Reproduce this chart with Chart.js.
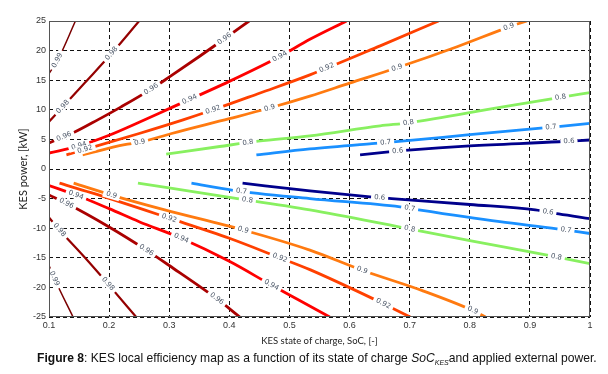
<!DOCTYPE html>
<html>
<head>
<meta charset="utf-8">
<script src="https://cdn.jsdelivr.net/npm/chart.js@4.4.0/dist/chart.umd.min.js"></script>
<style>
  body { margin: 0; background: #fff; }
  #wrap { position: relative; width: 608px; height: 374px; }
  #cap { position: absolute; left: 37px; top: 351px; font: 12.1px "Liberation Sans", Arial, sans-serif; color: #111; white-space: nowrap; }
  #cap sub { font-size: 7px; vertical-align: -3px; }
</style>
</head>
<body>
<div id="wrap">
  <canvas id="effMap" width="608" height="374"></canvas>
  <div id="cap"><b>Figure 8</b>: KES local efficiency map as a function of its state of charge <i>SoC</i><sub><i>KES</i></sub>and applied external power.</div>
</div>
<script>
// contour levels, highest efficiency first
const levels = ['0.99', '0.98', '0.96', '0.94', '0.92', '0.9', '0.8', '0.7', '0.6'];

// charging side (power > 0): [SoC, kW]
const chg099 = [[0.1, 16.1], [0.115, 18.5], [0.144, 25]];
const chg098 = [[0.1, 8.0], [0.123, 10.5], [0.16, 14.6], [0.204, 19.5], [0.25, 25]];
const chg096 = [[0.1, 4.4], [0.142, 6.2], [0.181, 8.3], [0.22, 10.5], [0.27, 13.5], [0.301, 15.6], [0.35, 19], [0.392, 22], [0.433, 25]];
const chg094 = [[0.1, 2.7], [0.15, 3.9], [0.2, 5.7], [0.25, 7.9], [0.3, 10.2], [0.4, 14.8], [0.484, 19], [0.534, 21.9], [0.595, 25]];
const chg092 = [[0.129, 2.4], [0.17, 3.6], [0.25, 6.0], [0.323, 8.3], [0.373, 10], [0.45, 12.8], [0.534, 15.9], [0.651, 20.8], [0.748, 25]];
const chg090 = [[0.156, 2.4], [0.226, 4.1], [0.251, 4.5], [0.304, 6.0], [0.4, 8.5], [0.467, 10.3], [0.534, 12.3], [0.6, 14.5], [0.679, 17.1], [0.78, 20.7], [0.868, 24.1], [0.895, 25]];
const chg080 = [[0.295, 2.5], [0.384, 3.8], [0.448, 4.7], [0.534, 5.6], [0.651, 7.3], [0.698, 7.8], [0.85, 10.4], [0.951, 12.1], [1.0, 12.9]];
const chg070 = [[0.445, 2.4], [0.534, 3.4], [0.637, 4.3], [0.687, 4.7], [0.8, 5.8], [0.918, 6.9], [0.951, 7.2], [1.0, 7.7]];
const chg060 = [[0.6175, 2.4], [0.665, 2.9], [0.698, 3.2], [0.8, 3.9], [0.948, 4.6], [1.0, 4.9]];

// discharging side (power < 0): [SoC, kW]
const dis099 = [[0.1, -16.3], [0.109, -18.5], [0.14, -25]];
const dis098 = [[0.1, -8.2], [0.1175, -10.3], [0.16, -15], [0.198, -19.4], [0.245, -25]];
const dis096 = [[0.1, -4.4], [0.129, -5.8], [0.2, -9.8], [0.262, -13.7], [0.3, -16.3], [0.379, -21.9], [0.4175, -25]];
const dis094 = [[0.1, -2.8], [0.145, -4.4], [0.2, -6.7], [0.25, -8.9], [0.32, -11.7], [0.4, -15.6], [0.47, -19.6], [0.517, -22.2], [0.567, -25]];
const dis092 = [[0.1175, -2.4], [0.17, -4.0], [0.3, -8.3], [0.4, -11.7], [0.484, -15.0], [0.534, -17.0], [0.645, -22.2], [0.701, -25]];
const dis090 = [[0.141, -2.4], [0.204, -4.4], [0.2925, -6.9], [0.423, -10.3], [0.534, -13.7], [0.621, -17.1], [0.72, -20.5], [0.805, -23.9], [0.826, -25]];
const dis080 = [[0.248, -2.4], [0.395, -4.7], [0.534, -6.9], [0.684, -9.8], [0.8, -12.1], [0.931, -14.6], [1.0, -16.0]];
const dis070 = [[0.337, -2.4], [0.406, -3.6], [0.534, -5.0], [0.684, -6.4], [0.715, -6.9], [0.85, -8.9], [0.945, -10.1], [1.0, -10.9]];
const dis060 = [[0.422, -2.4], [0.534, -3.7], [0.634, -4.7], [0.67, -5.0], [0.8, -6.0], [0.909, -6.9], [0.948, -7.6], [1.0, -8.4]];

const chgLines = [chg099, chg098, chg096, chg094, chg092, chg090, chg080, chg070, chg060];
const disLines = [dis099, dis098, dis096, dis094, dis092, dis090, dis080, dis070, dis060];

// SoC where the level labels sit on each line
const chgLabelSoc = [[0.114], [0.123, 0.204], [0.125, 0.27, 0.392], [0.15, 0.334, 0.484], [0.16, 0.373, 0.562], [0.251, 0.467, 0.679, 0.865], [0.431, 0.698, 0.951], [0.66, 0.935], [0.68, 0.965]];
const disLabelSoc = [[0.109], [0.1175, 0.198], [0.129, 0.262, 0.379], [0.145, 0.32, 0.47], [0.3, 0.484, 0.656], [0.204, 0.423, 0.621, 0.805], [0.43, 0.7, 0.944], [0.42, 0.7, 0.96], [0.65, 0.93]];

const socTicks = [0.1, 0.2, 0.3, 0.4, 0.5, 0.6, 0.7, 0.8, 0.9, 1];
const kwTicks = [-25, -20, -15, -10, -5, 0, 5, 10, 15, 20, 25];

const lineColors = ['#7a0000', '#940000', '#aa0000', '#ff0000', '#ff4000', '#ff7a10', '#88f060', '#1a90ff', '#00008c'];
const lineWidths = [1.5, 2.2, 2.8, 2.8, 2.8, 2.8, 2.8, 2.8, 2.8];

function interp(pts, s) {
  for (let i = 1; i < pts.length; i++) {
    if (s <= pts[i][0]) {
      const [x0, y0] = pts[i - 1], [x1, y1] = pts[i];
      return y0 + (y1 - y0) * (s - x0) / (x1 - x0);
    }
  }
  return pts[pts.length - 1][1];
}

const datasets = [];
levels.forEach((lvl, i) => {
  [[chgLines[i], chgLabelSoc[i]], [disLines[i], disLabelSoc[i]]].forEach(([pts, lab]) => {
    datasets.push({
      label: lvl,
      data: pts.map(p => ({ x: p[0], y: p[1] })),
      pts,
      labelAt: lab,
      borderColor: lineColors[i],
      borderWidth: lineWidths[i],
      pointRadius: 0,
      fill: false,
      cubicInterpolationMode: 'monotone'
    });
  });
});

const contourLabels = {
  id: 'contourLabels',
  afterDatasetsDraw(chart) {
    const { ctx, scales: { x, y } } = chart;
    ctx.save();
    ctx.font = '7px "DejaVu Sans"';
    ctx.textAlign = 'center';
    ctx.textBaseline = 'middle';
    chart.data.datasets.forEach(ds => {
      ds.labelAt.forEach(s => {
        const px = x.getPixelForValue(s), py = y.getPixelForValue(interp(ds.pts, s));
        const ax = x.getPixelForValue(s - 0.01), ay = y.getPixelForValue(interp(ds.pts, s - 0.01));
        const bx = x.getPixelForValue(s + 0.01), by = y.getPixelForValue(interp(ds.pts, Math.min(s + 0.01, 1)));
        const w = ctx.measureText(ds.label).width + 6;
        ctx.save();
        ctx.translate(px, py);
        ctx.rotate(Math.atan2(by - ay, bx - ax));
        ctx.fillStyle = '#fff';
        ctx.fillRect(-w / 2, -4, w, 8);
        ctx.fillStyle = '#4a5566';
        ctx.fillText(ds.label, 0, 0);
        ctx.restore();
      });
    });
    ctx.restore();
  },
  afterDraw(chart) {
    const { ctx, chartArea: a } = chart;
    ctx.save();
    ctx.strokeStyle = '#555';
    ctx.lineWidth = 1;
    ctx.strokeRect(a.left + 0.5, a.top + 0.5, a.right - a.left - 1, a.bottom - a.top - 1);
    ctx.translate(23, (a.top + a.bottom) / 2);
    ctx.rotate(-Math.PI / 2);
    ctx.font = '11px Lato';
    ctx.fillStyle = '#222';
    ctx.textAlign = 'center';
    ctx.textBaseline = 'middle';
    ctx.fillText('KES power, [kW]', 0, 0);
    ctx.restore();
  }
};

new Chart(document.getElementById('effMap'), {
  type: 'line',
  data: { datasets },
  options: {
    responsive: false,
    animation: false,
    layout: { padding: { top: 21, right: 18, bottom: 27, left: 0 } },
    plugins: { legend: { display: false }, tooltip: { enabled: false } },
    scales: {
      x: {
        type: 'linear',
        min: 0.1,
        max: 1,
        afterBuildTicks: s => { s.ticks = socTicks.map(v => ({ value: v })); },
        afterFit: s => { s.height = 30; },
        ticks: {
          callback: v => String(+v.toFixed(1)),
          font: { family: 'Liberation Sans', size: 9 },
          color: '#333',
          padding: 3,
          maxRotation: 0
        },
        grid: { color: '#111', lineWidth: 1, drawTicks: false },
        border: { dash: [4, 3], display: false },
        title: {
          display: true,
          text: 'KES state of charge, SoC, [-]',
          font: { family: 'Lato', size: 9.5 },
          color: '#222',
          padding: 0
        }
      },
      y: {
        min: -25,
        max: 25,
        afterBuildTicks: s => { s.ticks = kwTicks.map(v => ({ value: v })); },
        afterFit: s => { s.width = 49; },
        ticks: {
          font: { family: 'Liberation Sans', size: 9 },
          color: '#333',
          padding: 3
        },
        grid: { color: '#111', lineWidth: 1, drawTicks: false },
        border: { dash: [4, 3], display: false }
      }
    }
  },
  plugins: [contourLabels]
});
</script>
</body>
</html>
